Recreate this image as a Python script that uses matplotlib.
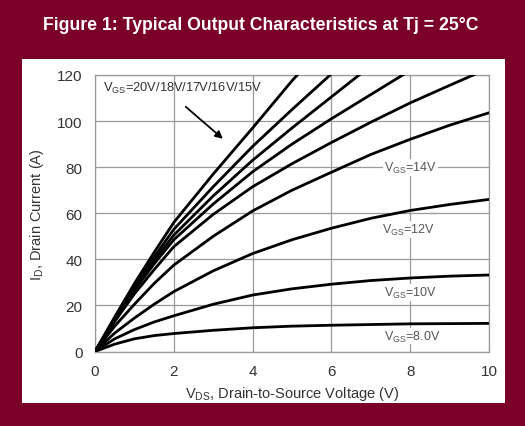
import matplotlib.pyplot as plt

plt.rcParams["font.family"] = ["Liberation Sans", "DejaVu Sans"]
plt.rcParams["mathtext.fontset"] = "custom"
plt.rcParams["mathtext.rm"] = "Liberation Sans"

MAROON = "#7b0029"
GRID = "#9a9a9a"
TEXT = "#333333"

TITLE = "Figure 1: Typical Output Characteristics at Tj = 25°C"
X_LABEL = r"V$_{\mathrm{DS}}$, Drain-to-Source Voltage (V)"
Y_LABEL = r"I$_{\mathrm{D}}$, Drain Current (A)"

# (V_DS in volts, I_D in amps)
VDS = [0, 0.5, 1, 1.5, 2, 3, 4, 5, 6, 7, 8, 9, 10]
ID_8V = [0, 3.2, 5.5, 6.9, 7.8, 9.2, 10.3, 11.0, 11.4, 11.7, 12.0, 12.1, 12.2]
ID_10V = [0, 5.5, 9.5, 12.8, 15.5, 20.5, 24.5, 27.2, 29.2, 30.8, 31.9, 32.7, 33.2]
ID_12V = [0, 8, 14.5, 20.5, 26, 35, 42.5, 48.5, 53.5, 57.8, 61.2, 63.8, 66]
ID_14V = [0, 11, 20.5, 29.5, 37.5, 50, 61, 70, 77.8, 85.5, 92.1, 98.2, 103.6]
ID_15V = [0, 13, 25, 35.5, 45.5, 59.5, 71.5, 81.5, 90.7, 99.5, 107.9, 115.5, 123]
ID_16V = [0, 13.5, 26.5, 38, 48.5, 64, 78, 90, 101, 111.5, 122]
ID_17V = [0, 14, 27.5, 39.5, 50.5, 67.5, 83, 97, 110.5, 124]
ID_18V = [0, 14.5, 28.5, 41, 53, 71.5, 89, 105, 120.5, 136]
ID_20V = [0, 15, 29.5, 43, 56, 77, 97, 117.5, 136]

CURVES = [ID_8V, ID_10V, ID_12V, ID_14V, ID_15V, ID_16V, ID_17V, ID_18V, ID_20V]

# (text, x, y) of the in-plot V_GS labels
CURVE_LABELS = [
    (r"V$_{\mathrm{GS}}$=14V", 8.0, 80),
    (r"V$_{\mathrm{GS}}$=12V", 7.95, 53),
    (r"V$_{\mathrm{GS}}$=10V", 8.0, 25.6),
    (r"V$_{\mathrm{GS}}$=8.0V", 8.05, 6.7),
]
GROUP_LABEL = r"V$_{\mathrm{GS}}$=20V/18V/17V/16V/15V"

X_TICKS = [0, 2, 4, 6, 8, 10]
Y_TICKS = [0, 20, 40, 60, 80, 100, 120]


def main() -> None:
    fig = plt.figure(figsize=(5.25, 4.27), dpi=100)
    fig.patch.set_facecolor(MAROON)

    # white panel behind the chart
    panel = fig.add_axes([22 / 525, 1 - 404 / 427, 483 / 525, 344 / 427])
    panel.set_facecolor("white")
    panel.set_xticks([])
    panel.set_yticks([])
    for spine in panel.spines.values():
        spine.set_visible(False)
    panel.set_zorder(0)

    fig.text(0.497, 1 - 26 / 427, TITLE, color="white", fontsize=12.7,
             fontweight="bold", ha="center", va="center")

    ax = fig.add_axes([95 / 525, 1 - 352.5 / 427, 394 / 525, 276.5 / 427])
    ax.set_zorder(1)
    ax.set_facecolor("white")

    for ids in CURVES:
        ax.plot(VDS[:len(ids)], ids, color="black", lw=2.0,
                solid_capstyle="round", solid_joinstyle="round", zorder=3)

    ax.set_xlim(0, 10)
    ax.set_ylim(0, 120)
    ax.set_xticks(X_TICKS)
    ax.set_yticks(Y_TICKS)
    ax.grid(True, color=GRID, lw=0.9)
    ax.set_axisbelow(True)
    ax.tick_params(length=0, labelsize=11, labelcolor=TEXT, pad=9)
    for spine in ax.spines.values():
        spine.set_color(GRID)
        spine.set_linewidth(0.9)

    ax.set_xlabel(X_LABEL, fontsize=10.5, color=TEXT, labelpad=4)
    ax.set_ylabel(Y_LABEL, fontsize=10.5, color=TEXT, labelpad=8)

    for text, x, y in CURVE_LABELS:
        ax.text(x, y, text, fontsize=9, color="#555555", ha="center",
                va="center", zorder=4,
                bbox=dict(facecolor="white", edgecolor="none", pad=0.6))

    ax.text(0.2, 114.5, GROUP_LABEL, fontsize=9.3, color="#333333",
            ha="left", va="center", zorder=4)
    ax.annotate("", xy=(3.3, 91.5), xytext=(2.25, 107),
                arrowprops=dict(arrowstyle="-|>", color="black", lw=1.3,
                                mutation_scale=11), zorder=4)

    fig.savefig("out.png", dpi=100, facecolor=fig.get_facecolor())
    plt.close(fig)


if __name__ == "__main__":
    main()
